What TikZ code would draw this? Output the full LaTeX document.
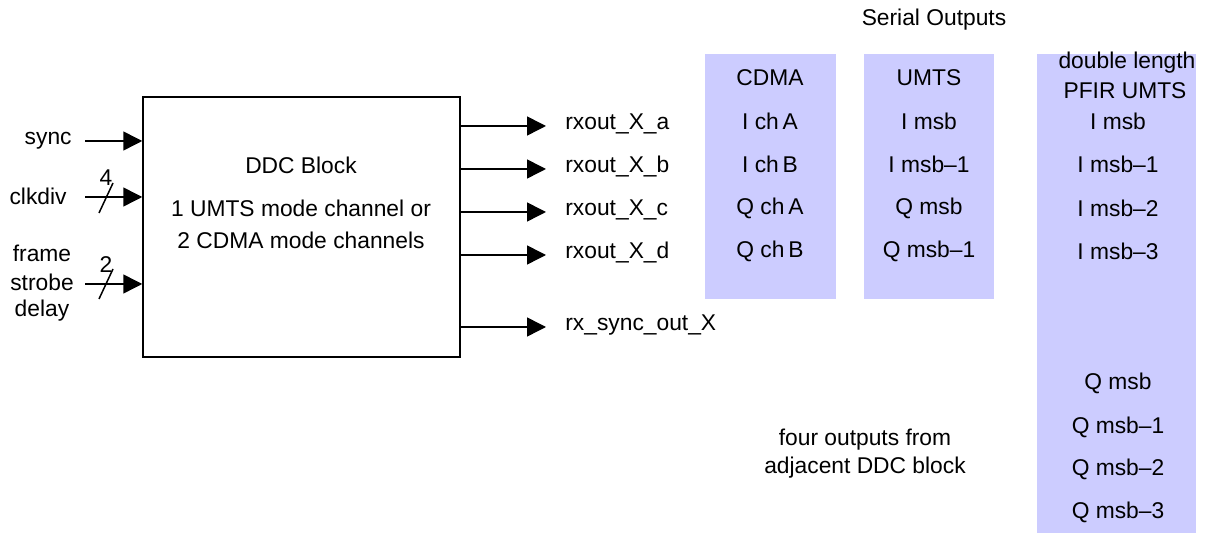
\documentclass[tikz,border=0pt]{standalone}
\usepackage{fontspec}
\setmainfont{Liberation Sans}
\usetikzlibrary{arrows.meta}
\definecolor{colfill}{RGB}{204,204,255}
\tikzset{
  arr/.style={line width=0.75pt,-{Triangle[length=9.5pt,width=9.5pt]}},
  plain/.style={line width=0.75pt},
  lbl/.style={inner sep=0pt,font=\fontsize{11.4}{13}\selectfont},
  ddcbox/.style={draw,line width=0.75pt,minimum width=158.5pt,minimum height=130pt,inner sep=0pt},
  colbox/.style={fill=colfill,draw=none}
}
\begin{document}
\begin{tikzpicture}[x=0.5pt,y=-0.5pt]
\useasboundingbox (0,0) rectangle (1206,539);
% columns
\fill[colbox] (705,54) rectangle (836,299);
\fill[colbox] (864,54) rectangle (994,299);
\fill[colbox] (1037,54) rectangle (1196,533);
% DDC block
\node[ddcbox] (box) at (301.5,227) {};
\node[lbl] (t1) at (301,165) {DDC Block};
\node[lbl] (t2) at (301,208) {1 UMTS mode channel or};
\node[lbl] (t3) at (301,240) {2 CDMA mode channels};
% inputs
\node[lbl,anchor=east] (lsync) at (72,141) {sync};
\node[lbl,anchor=east] (lclk) at (67,196) {clkdiv};
\node[lbl] (lf1) at (42,253) {frame};
\node[lbl] (lf2) at (42,282) {strobe};
\node[lbl] (lf3) at (42,311) {delay};
\coordinate (insync) at (85,141);
\coordinate (inclk) at (85,197);
\coordinate (infr) at (85,284);
\draw[arr] (insync) -- (insync -| box.west);
\draw[arr] (inclk) -- (inclk -| box.west);
\draw[arr] (infr) -- (infr -| box.west);
\draw[plain] (99,213) -- (113,183);
\draw[plain] (99,299) -- (113,269);
\node[lbl] (n4) at (106,178) {4};
\node[lbl] (n2) at (106,265) {2};
% outputs
\coordinate (oa) at (546,126);
\coordinate (ob) at (546,169);
\coordinate (oc) at (546,212);
\coordinate (od) at (546,255);
\coordinate (os) at (546,327);
\draw[arr] (oa -| box.east) -- (oa);
\draw[arr] (ob -| box.east) -- (ob);
\draw[arr] (oc -| box.east) -- (oc);
\draw[arr] (od -| box.east) -- (od);
\draw[arr] (os -| box.east) -- (os);
\node[lbl,anchor=west] (la) at (565,124) {rxout\_X\_a};
\node[lbl,anchor=west] (lb) at (565,167) {rxout\_X\_b};
\node[lbl,anchor=west] (lc) at (565,210) {rxout\_X\_c};
\node[lbl,anchor=west] (ld) at (565,253) {rxout\_X\_d};
\node[lbl,anchor=west] (ls) at (565,325) {rx\_sync\_out\_X};
% serial outputs
\node[lbl] (ser) at (934,20) {Serial Outputs};
\node[lbl] (c1h) at (770,78) {CDMA};
\node[lbl] (c1a) at (770,121) {I ch\,A};
\node[lbl] (c1b) at (770,164) {I ch\,B};
\node[lbl] (c1c) at (770,208) {Q ch\,A};
\node[lbl] (c1d) at (770,251) {Q ch\,B};
\node[lbl] (c2h) at (929,78) {UMTS};
\node[lbl] (c2a) at (929,121) {I msb};
\node[lbl] (c2b) at (929,164) {I msb--1};
\node[lbl] (c2c) at (929,208) {Q msb};
\node[lbl] (c2d) at (929,251) {Q msb--1};
\node[lbl] (c3h1) at (1127,63) {double length};
\node[lbl] (c3h2) at (1125,91) {PFIR UMTS};
\node[lbl] (c3a) at (1118,121) {I msb};
\node[lbl] (c3b) at (1118,164) {I msb--1};
\node[lbl] (c3c) at (1118,208) {I msb--2};
\node[lbl] (c3d) at (1118,251) {I msb--3};
\node[lbl] (c3e) at (1118,383) {Q msb};
\node[lbl] (c3f) at (1118,427) {Q msb--1};
\node[lbl] (c3g) at (1118,469) {Q msb--2};
\node[lbl] (c3h) at (1118,512) {Q msb--3};
\node[lbl] (adj1) at (865,440) {four outputs from};
\node[lbl] (adj2) at (865,468) {adjacent DDC block};
\end{tikzpicture}
\end{document}
